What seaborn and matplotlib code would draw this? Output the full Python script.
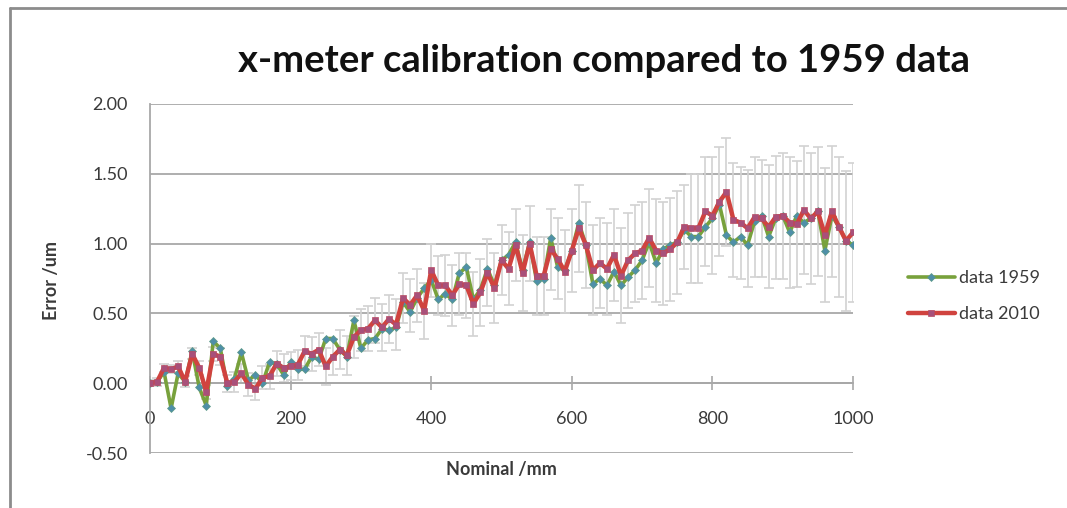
import matplotlib
matplotlib.use("Agg")
import matplotlib.pyplot as plt
import seaborn as sns
import pandas as pd
from matplotlib.lines import Line2D

# ---------------- data ----------------
nominal_mm = list(range(0, 1001, 10))

data_1959 = [
    0.00, 0.01, 0.08, -0.18, 0.07, 0.01, 0.23, -0.03, -0.16, 0.30,
    0.25, -0.02, 0.03, 0.22, 0.02, 0.06, 0.00, 0.15, 0.14, 0.06,
    0.15, 0.10, 0.10, 0.19, 0.17, 0.32, 0.32, 0.24, 0.19, 0.45,
    0.25, 0.31, 0.32, 0.39, 0.38, 0.40, 0.58, 0.51, 0.61, 0.68,
    0.74, 0.60, 0.64, 0.60, 0.79, 0.83, 0.60, 0.67, 0.82, 0.70,
    0.88, 0.92, 1.01, 0.81, 1.01, 0.73, 0.75, 1.04, 0.83, 0.81,
    0.95, 1.15, 0.99, 0.71, 0.75, 0.70, 0.80, 0.70, 0.76, 0.81,
    0.88, 1.01, 0.86, 0.96, 0.99, 1.01, 1.10, 1.05, 1.05, 1.12,
    1.18, 1.28, 1.06, 1.01, 1.05, 0.99, 1.16, 1.20, 1.05, 1.18,
    1.20, 1.08, 1.20, 1.15, 1.18, 1.23, 0.95, 1.20, 1.12, 1.02,
    0.99,
]

data_2010 = [
    0.00, 0.01, 0.11, 0.10, 0.12, 0.01, 0.21, 0.11, -0.06, 0.21,
    0.19, 0.00, 0.01, 0.07, -0.01, -0.04, 0.04, 0.05, 0.14, 0.11,
    0.12, 0.13, 0.23, 0.21, 0.24, 0.12, 0.19, 0.24, 0.20, 0.33,
    0.38, 0.39, 0.45, 0.40, 0.46, 0.42, 0.61, 0.56, 0.63, 0.52,
    0.81, 0.70, 0.70, 0.63, 0.71, 0.70, 0.57, 0.65, 0.79, 0.68,
    0.88, 0.82, 0.99, 0.79, 1.00, 0.77, 0.77, 0.96, 0.89, 0.80,
    0.95, 1.11, 0.99, 0.81, 0.86, 0.82, 0.92, 0.77, 0.88, 0.93,
    0.95, 1.04, 0.95, 0.93, 0.96, 1.01, 1.12, 1.11, 1.11, 1.23,
    1.20, 1.30, 1.37, 1.17, 1.15, 1.11, 1.19, 1.18, 1.12, 1.19,
    1.20, 1.15, 1.14, 1.24, 1.18, 1.23, 1.06, 1.23, 1.12, 1.02,
    1.08,
]

uncertainty = [
    0.02, 0.03, 0.03, 0.03, 0.04, 0.04, 0.04, 0.05, 0.05, 0.05,
    0.06, 0.06, 0.07, 0.07, 0.08, 0.08, 0.08, 0.09, 0.09, 0.10,
    0.10, 0.11, 0.11, 0.12, 0.12, 0.13, 0.13, 0.14, 0.14, 0.15,
    0.15, 0.16, 0.16, 0.17, 0.17, 0.18, 0.18, 0.19, 0.19, 0.20,
    0.19, 0.21, 0.22, 0.22, 0.22, 0.23, 0.23, 0.24, 0.24, 0.25,
    0.25, 0.26, 0.26, 0.27, 0.27, 0.28, 0.28, 0.29, 0.29, 0.30,
    0.30, 0.31, 0.31, 0.32, 0.32, 0.33, 0.33, 0.34, 0.34, 0.35,
    0.35, 0.35, 0.37, 0.37, 0.37, 0.37, 0.30, 0.39, 0.39, 0.39,
    0.42, 0.39, 0.39, 0.41, 0.40, 0.42, 0.43, 0.42, 0.44, 0.44,
    0.45, 0.47, 0.45, 0.46, 0.47, 0.46, 0.48, 0.47, 0.50, 0.50,
    0.50,
]

series_names = ["data 1959", "data 2010"]
x_ticks = [0, 200, 400, 600, 800, 1000]
y_ticks = [-0.50, 0.00, 0.50, 1.00, 1.50, 2.00]

title_text = "x-meter calibration compared to 1959 data"
x_label = "Nominal /mm"
y_label = "Error /um"

# ---------------- style ----------------
sns.set_theme(style="white")
plt.rcParams['font.family'] = ['Lato', 'DejaVu Sans']

W, H = 1067, 508
fig = plt.figure(figsize=(W / 100, H / 100), dpi=100)
ax = fig.add_axes([150 / W, 55 / H, 703 / W, 349 / H])

grid_col = '#a8a8a8'
text_col = '#3a3a3a'

df = pd.DataFrame({
    'x': nominal_mm * 2,
    'y': data_1959 + data_2010,
    'series': [series_names[0]] * len(nominal_mm) + [series_names[1]] * len(nominal_mm),
})

# error bars on the 2010 series
ax.errorbar(nominal_mm, data_2010, yerr=uncertainty, fmt='none',
            ecolor='#d2d2d2', elinewidth=1.2, capsize=3.5, capthick=1.2,
            zorder=2)

sns.lineplot(data=df[df.series == series_names[0]], x='x', y='y', ax=ax,
             color='#78a13c', linewidth=2.6, marker='D', markersize=3.8,
             markerfacecolor='#4f8fa8', markeredgecolor='#5c9a86',
             markeredgewidth=0.5, label=series_names[0], zorder=3)
sns.lineplot(data=df[df.series == series_names[1]], x='x', y='y', ax=ax,
             color='#d0433f', linewidth=3.2, marker='s', markersize=4.6,
             markerfacecolor='#a8507a', markeredgecolor='#b84a62',
             markeredgewidth=0.5, label=series_names[1], zorder=4)

ax.set_xlim(0, 1000)
ax.set_ylim(-0.5, 2.0)
ax.set_xticks(x_ticks)
ax.set_yticks(y_ticks)
ax.set_yticklabels([f"{v:.2f}" for v in y_ticks])
ax.set_xlabel("")
ax.set_ylabel("")

ax.grid(axis='y', color=grid_col, linewidth=1.3)
ax.grid(axis='x', visible=False)
ax.set_axisbelow(True)

for s in ['top', 'right']:
    ax.spines[s].set_visible(False)
ax.spines['left'].set_color(grid_col)
ax.spines['left'].set_linewidth(1.3)
ax.spines['bottom'].set_position(('data', 0))
ax.spines['bottom'].set_color(grid_col)
ax.spines['bottom'].set_linewidth(1.3)

ax.tick_params(axis='x', direction='inout', length=10, width=1.2,
               color=grid_col, pad=15, labelsize=13, labelcolor=text_col,
               bottom=True)
ax.tick_params(axis='y', length=0, pad=16, labelsize=13, labelcolor=text_col,
               left=True)

fig.text(604 / W, 1 - 61 / H, title_text, ha='center', va='center',
         fontsize=27.5, fontweight='bold', color='#111111')
fig.text(52 / W, 1 - 280 / H, y_label, rotation=90, ha='center', va='center',
         fontsize=13, fontweight='bold', color=text_col)
fig.text(501 / W, 1 - 470 / H, x_label, ha='center', va='center',
         fontsize=13, fontweight='bold', color=text_col)

ax.legend(loc='center left', bbox_to_anchor=(908 / W, 1 - 296 / H),
          bbox_transform=fig.transFigure, frameon=False, fontsize=13,
          handlelength=2.6, handletextpad=0.2, labelspacing=1.1,
          borderaxespad=0, borderpad=0, labelcolor=text_col)

# outer frame (top and left edges)
fig.add_artist(Line2D([10 / W, 10 / W], [0, 1 - 8 / H], transform=fig.transFigure,
                      color='#8c8c8c', linewidth=2))
fig.add_artist(Line2D([10 / W, 1], [1 - 8 / H, 1 - 8 / H], transform=fig.transFigure,
                      color='#8c8c8c', linewidth=2))

fig.savefig('out.png', dpi=100)
